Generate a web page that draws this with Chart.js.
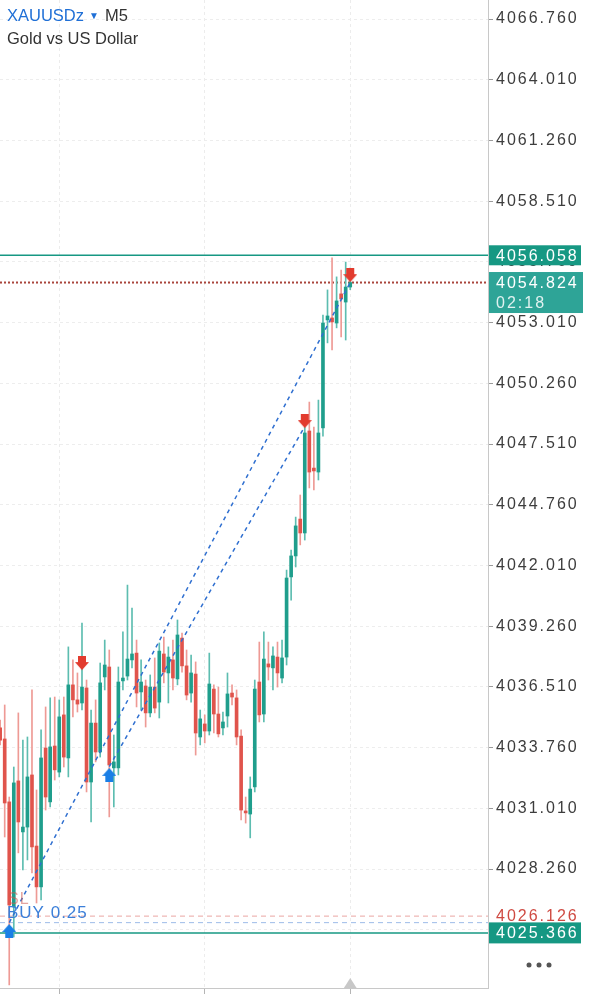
<!DOCTYPE html>
<html lang="en">
<head>
<meta charset="utf-8">
<title>XAUUSDz M5</title>
<script src="https://cdn.jsdelivr.net/npm/chart.js@4.4.1/dist/chart.umd.min.js"></script>
<style>
  html, body { margin: 0; padding: 0; background: #fff; }
  #wrap { position: relative; width: 591px; height: 995px; }
  #header {
    position: absolute; left: 7px; top: 4px;
    font-family: "Liberation Sans", Arial, sans-serif;
    font-size: 16.5px; line-height: 23px; color: #333;
  }
  #header .sym { color: #1f6fd6; }
  #header .caret { color: #1f6fd6; font-size: 10px; margin: 0 6px 0 5px; vertical-align: 2px; }
</style>
</head>
<body>
<div id="wrap">
  <canvas id="priceChart" width="591" height="995"></canvas>
  <div id="header">
    <div><span class="sym">XAUUSDz</span><span class="caret">▼</span>M5</div>
    <div>Gold vs US Dollar</div>
  </div>
</div>

<script>
  // M5 candles, first one is partly cut off at the left edge
  const firstIndex = -1;
  const opens = [
    4034.65, 4034.15, 4031.30, 4026.54, 4032.25, 4029.94, 4030.16, 4032.52, 4029.30, 4027.45,
    4033.74, 4031.30, 4033.83, 4032.65, 4035.24, 4033.29, 4036.60, 4035.92, 4035.78, 4036.46,
    4032.20, 4034.87, 4033.56, 4036.96, 4037.41, 4032.84, 4032.84, 4036.78, 4037.00, 4037.73,
    4038.04, 4036.28, 4036.55, 4035.33, 4036.50, 4035.82, 4038.00, 4037.14, 4037.73, 4036.87,
    4038.72, 4037.46, 4036.23, 4037.09, 4034.24, 4034.83, 4034.51, 4036.41, 4035.28, 4034.65,
    4035.19, 4036.23, 4036.01, 4034.28, 4030.89, 4030.75, 4031.98, 4036.73, 4035.28, 4037.55,
    4037.37, 4037.86, 4036.91, 4037.86, 4041.49, 4042.44, 4044.11, 4043.48, 4048.10, 4046.42,
    4046.24, 4048.24, 4053.13, 4053.22, 4052.99, 4054.31, 4053.94, 4054.62
  ];
  const highs = [
    4035.01, 4035.69, 4031.52, 4032.88, 4035.33, 4034.10, 4034.24, 4036.37, 4031.84, 4034.56,
    4035.60, 4036.01, 4036.05, 4035.92, 4036.05, 4038.32, 4037.73, 4037.14, 4039.40, 4036.82,
    4035.46, 4035.92, 4037.59, 4038.63, 4038.18, 4034.33, 4037.41, 4039.00, 4041.12, 4040.08,
    4038.63, 4037.73, 4036.82, 4037.05, 4037.82, 4038.50, 4038.77, 4038.32, 4038.63, 4039.54,
    4038.95, 4038.18, 4037.95, 4037.64, 4035.46, 4035.24, 4038.04, 4036.60, 4036.50, 4035.37,
    4037.14, 4036.60, 4036.37, 4034.56, 4031.52, 4032.43, 4036.82, 4038.54, 4039.00, 4038.54,
    4038.32, 4038.54, 4038.63, 4041.80, 4042.71, 4044.20, 4045.20, 4048.28, 4049.41, 4048.28,
    4049.50, 4053.35, 4054.49, 4055.94, 4055.08, 4055.39, 4055.75, 4055.48
  ];
  const lows = [
    4033.88, 4029.71, 4023.01, 4025.18, 4028.99, 4028.22, 4028.67, 4028.08, 4026.72, 4026.86,
    4030.93, 4031.07, 4032.29, 4032.43, 4032.88, 4032.43, 4035.15, 4035.37, 4035.46, 4031.75,
    4030.39, 4033.11, 4033.33, 4036.37, 4030.62, 4031.07, 4032.52, 4036.37, 4036.82, 4037.37,
    4035.60, 4035.46, 4034.69, 4035.15, 4035.33, 4035.10, 4036.69, 4035.78, 4036.37, 4036.60,
    4037.18, 4035.92, 4035.82, 4033.42, 4033.88, 4033.97, 4034.33, 4034.42, 4034.24, 4034.33,
    4034.69, 4035.69, 4033.88, 4030.48, 4030.34, 4029.67, 4031.75, 4034.92, 4034.92, 4036.82,
    4036.37, 4036.50, 4036.69, 4037.50, 4040.44, 4041.94, 4042.94, 4043.16, 4045.52, 4045.43,
    4045.88, 4047.87, 4052.09, 4051.77, 4052.77, 4052.36, 4052.22, 4054.50
  ];
  const closes = [
    4034.10, 4031.25, 4026.63, 4032.16, 4030.39, 4030.16, 4032.43, 4029.26, 4027.45, 4033.29,
    4031.52, 4033.79, 4032.75, 4035.15, 4033.33, 4036.60, 4035.92, 4035.73, 4036.50, 4032.20,
    4034.87, 4033.56, 4036.69, 4037.50, 4032.97, 4033.11, 4036.73, 4036.91, 4037.77, 4038.00,
    4036.23, 4036.73, 4035.33, 4036.50, 4035.55, 4038.13, 4037.18, 4037.86, 4036.91, 4038.86,
    4037.46, 4036.14, 4037.14, 4034.42, 4035.06, 4034.51, 4036.64, 4035.28, 4034.38, 4034.92,
    4036.19, 4036.05, 4034.24, 4030.93, 4030.80, 4031.88, 4036.41, 4035.24, 4037.77, 4037.41,
    4037.91, 4037.14, 4037.82, 4041.44, 4042.44, 4043.80, 4043.48, 4048.01, 4046.24, 4046.29,
    4048.01, 4052.99, 4053.31, 4053.04, 4053.99, 4054.08, 4054.62, 4054.824
  ];

  const yTicks = [
    4025.51, 4028.26, 4031.01, 4033.76, 4036.51, 4039.26, 4042.01, 4044.76,
    4047.51, 4050.26, 4053.01, 4055.76, 4058.51, 4061.26, 4064.01, 4066.76
  ];
  const xTicks = [12, 44, 76];
  const xMin = -1.034, xMax = 106.3;
  const yMin = 4022.87, yMax = 4067.621;

  // price levels
  const upperLevel = 4056.058;
  const lastPrice = 4054.824;
  const timeLeft = '02:18';
  const slLevel = 4026.126;
  const buyLevel = 4025.83;
  const lowerLevel = 4025.366;

  // trades: open -> close
  const tradeA = [{x: 1, y: 4025.83}, {x: 76, y: 4054.824}];
  const tradeB = [{x: 23, y: 4032.90}, {x: 66, y: 4048.30}];
  const buyMarks = [{x: 1, y: 4025.77}, {x: 23, y: 4032.84}];
  const sellMarks = [{x: 17, y: 4037.27}, {x: 66, y: 4048.23}, {x: 76, y: 4054.84}];

  const UP = '#1f9e8c', DOWN = '#e0544c';
  const UP_WICK = '#5dbdb0', DOWN_WICK = '#ee9a95';
  const FONT = '"Liberation Sans", Arial, sans-serif';

  const bodies = opens.map((o, i) => ({x: i + firstIndex, y: [o, closes[i]]}));
  const wicks = highs.map((h, i) => ({x: i + firstIndex, y: [lows[i], h]}));
  const isUp = opens.map((o, i) => closes[i] >= o);

  function arrowIcon(color, down) {
    const c = document.createElement('canvas');
    c.width = 14; c.height = 28;
    const g = c.getContext('2d');
    g.fillStyle = color;
    g.beginPath();
    if (down) {
      // tip sits at the centre of the icon
      g.rect(3, 0, 8, 7);
      g.moveTo(0, 6); g.lineTo(14, 6); g.lineTo(7, 14);
    } else {
      g.moveTo(7, 14); g.lineTo(14, 22); g.lineTo(0, 22);
      g.rect(3, 21, 8, 7);
    }
    g.fill();
    return c;
  }

  function level(value, color, width, dash) {
    return {
      type: 'line',
      data: [{x: xMin, y: value}, {x: xMax, y: value}],
      borderColor: color,
      borderWidth: width,
      borderDash: dash,
      pointRadius: 0,
      order: 4
    };
  }

  const overlay = {
    id: 'overlay',
    beforeDraw(chart) {
      chart.ctx.letterSpacing = '2px';
    },
    afterDraw(chart) {
      const {ctx, chartArea, scales: {x, y}} = chart;
      const lx = chartArea.right + 1;
      const tx = chartArea.right + 8;
      ctx.save();
      ctx.textBaseline = 'middle';
      ctx.font = '16px ' + FONT;
      ctx.letterSpacing = '2px';

      function box(v, bg, top, h, w) {
        const p = y.getPixelForValue(v);
        ctx.fillStyle = bg;
        ctx.fillRect(lx, p - top, w, h);
        return p;
      }

      let p = box(upperLevel, '#169883', 10, 20, 92);
      ctx.fillStyle = '#fff';
      ctx.fillText(upperLevel.toFixed(3), tx, p + 1);

      p = box(lastPrice, '#2ea497', 10.5, 41, 94);
      ctx.fillStyle = '#fff';
      ctx.fillText(lastPrice.toFixed(3), tx, p + 1);
      ctx.fillStyle = 'rgba(255,255,255,0.85)';
      ctx.fillText(timeLeft, tx, p + 21);

      p = box(slLevel, '#fff', 9, 17, 92);
      ctx.fillStyle = '#cf4a42';
      ctx.fillText(slLevel.toFixed(3), tx, p);

      p = box(lowerLevel, '#169883', 10.5, 21, 92);
      ctx.fillStyle = '#fff';
      ctx.fillText(lowerLevel.toFixed(3), tx, p + 1);

      // order labels on the left
      ctx.textBaseline = 'alphabetic';
      ctx.letterSpacing = '1px';
      ctx.font = '16px ' + FONT;
      ctx.fillStyle = 'rgba(205,90,80,0.55)';
      ctx.fillText('SL', chartArea.left + 8, y.getPixelForValue(slLevel) - 12);
      ctx.font = '17px ' + FONT;
      ctx.fillStyle = '#3b7fd9';
      ctx.fillText('BUY 0.25', chartArea.left + 7, y.getPixelForValue(buyLevel) - 5);

      // current bar marker on the time axis
      const cx = x.getPixelForValue(xTicks[xTicks.length - 1]);
      ctx.fillStyle = '#c8c8c8';
      ctx.beginPath();
      ctx.moveTo(cx, chartArea.bottom - 10);
      ctx.lineTo(cx + 7, chartArea.bottom + 1);
      ctx.lineTo(cx - 7, chartArea.bottom + 1);
      ctx.fill();

      // menu dots
      ctx.fillStyle = '#555';
      [529, 539, 549].forEach(dx => {
        ctx.beginPath();
        ctx.arc(dx, 965, 2.5, 0, Math.PI * 2);
        ctx.fill();
      });
      ctx.restore();
    }
  };

  new Chart(document.getElementById('priceChart'), {
    type: 'bar',
    data: {
      datasets: [
        level(upperLevel, '#169883', 1.5, []),
        level(lastPrice, '#a9453c', 2, [2, 2]),
        level(slLevel, '#eaa5a2', 1, [5, 4]),
        level(buyLevel, '#9dbbe8', 1, [5, 4]),
        level(lowerLevel, '#169883', 1.5, []),
        {
          data: wicks,
          backgroundColor: isUp.map(u => u ? UP_WICK : DOWN_WICK),
          barThickness: 1,
          grouped: false,
          order: 3
        },
        {
          data: bodies,
          backgroundColor: isUp.map(u => u ? UP : DOWN),
          barThickness: 3,
          minBarLength: 1,
          grouped: false,
          order: 2
        },
        {
          type: 'line',
          data: tradeA,
          borderColor: '#2f6fd0',
          borderWidth: 1.5,
          borderDash: [4, 4],
          pointRadius: 0,
          order: 1
        },
        {
          type: 'line',
          data: tradeB,
          borderColor: '#2f6fd0',
          borderWidth: 1.5,
          borderDash: [4, 4],
          pointRadius: 0,
          order: 1
        },
        {
          type: 'line',
          data: buyMarks,
          showLine: false,
          pointStyle: arrowIcon('#1a7fe6', false),
          order: 0
        },
        {
          type: 'line',
          data: sellMarks,
          showLine: false,
          pointStyle: arrowIcon('#e23b2e', true),
          order: 0
        }
      ]
    },
    options: {
      responsive: false,
      animation: false,
      layout: {padding: 0, autoPadding: false},
      plugins: {legend: {display: false}, tooltip: {enabled: false}},
      scales: {
        x: {
          type: 'linear',
          min: xMin,
          max: xMax,
          offset: false,
          afterBuildTicks: s => { s.ticks = xTicks.map(v => ({value: v})); },
          afterFit: s => { s.height = 7; s.paddingLeft = 0; s.paddingRight = 0; },
          ticks: {display: false},
          grid: {offset: false, color: '#ececec', tickColor: '#b5b5b5', tickLength: 6},
          border: {color: '#c8c8c8', dash: [3, 3]}
        },
        y: {
          position: 'right',
          min: yMin,
          max: yMax,
          afterBuildTicks: s => { s.ticks = yTicks.map(v => ({value: v})); },
          afterFit: s => { s.width = 103; s.paddingTop = 0; s.paddingBottom = 0; },
          ticks: {
            callback: v => v.toFixed(3),
            color: '#3d3d3d',
            padding: 3,
            font: {size: 16, family: FONT}
          },
          grid: {color: '#ededed', tickColor: '#9a9a9a', tickLength: 5},
          border: {color: '#c8c8c8', dash: [3, 3]}
        }
      }
    },
    plugins: [overlay]
  });
</script>
</body>
</html>
